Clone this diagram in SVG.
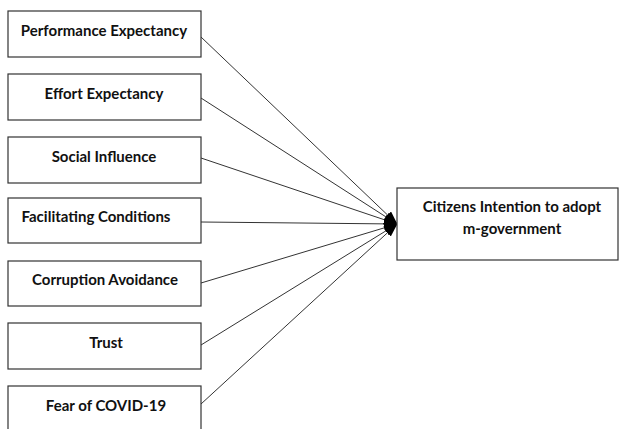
<svg xmlns="http://www.w3.org/2000/svg" width="619" height="429" viewBox="0 0 619 429">
<style>
.box{fill:#fff;stroke:#333;stroke-width:1.2}
.lbl{font-family:Lato,"Liberation Sans",sans-serif;font-weight:bold;font-size:15px;fill:#111;text-anchor:middle}
.con{stroke:#333;stroke-width:1;fill:none;marker-end:url(#ah)}
</style>
<defs>
<marker id="ah" markerUnits="userSpaceOnUse" markerWidth="14" markerHeight="10" refX="13" refY="5" orient="auto">
<path d="M0,0 L14,5 L0,10 Z" fill="#000"/>
</marker>
</defs>
<rect width="619" height="429" fill="#fff"/>
<g id="connectors">
<line class="con" x1="201" y1="37" x2="397" y2="224"/>
<line class="con" x1="201" y1="98" x2="397" y2="224"/>
<line class="con" x1="201" y1="158" x2="397" y2="224"/>
<line class="con" x1="201" y1="222" x2="397" y2="224"/>
<line class="con" x1="201" y1="283" x2="397" y2="224"/>
<line class="con" x1="201" y1="345" x2="397" y2="224"/>
<line class="con" x1="201" y1="404" x2="397" y2="224"/>
</g>
<g id="n1"><rect class="box" x="8" y="11" width="193" height="46"/><text class="lbl" x="104" y="36">Performance Expectancy</text></g>
<g id="n2"><rect class="box" x="8" y="74" width="193" height="46"/><text class="lbl" x="104" y="99">Effort Expectancy</text></g>
<g id="n3"><rect class="box" x="8" y="137" width="193" height="46"/><text class="lbl" x="104" y="162">Social Influence</text></g>
<g id="n4"><rect class="box" x="8" y="198" width="193" height="45"/><text class="lbl" x="96" y="222">Facilitating Conditions</text></g>
<g id="n5"><rect class="box" x="8" y="261" width="193" height="45"/><text class="lbl" x="105" y="285">Corruption Avoidance</text></g>
<g id="n6"><rect class="box" x="8" y="323" width="193" height="46"/><text class="lbl" x="106" y="348">Trust</text></g>
<g id="n7"><rect class="box" x="8" y="386" width="193" height="50"/><text class="lbl" x="106" y="411">Fear of COVID-19</text></g>
<g id="target"><rect class="box" x="397" y="188" width="221" height="72"/><text class="lbl" x="512" y="212">Citizens Intention to adopt</text><text class="lbl" x="512" y="234">m-government</text></g>
</svg>
